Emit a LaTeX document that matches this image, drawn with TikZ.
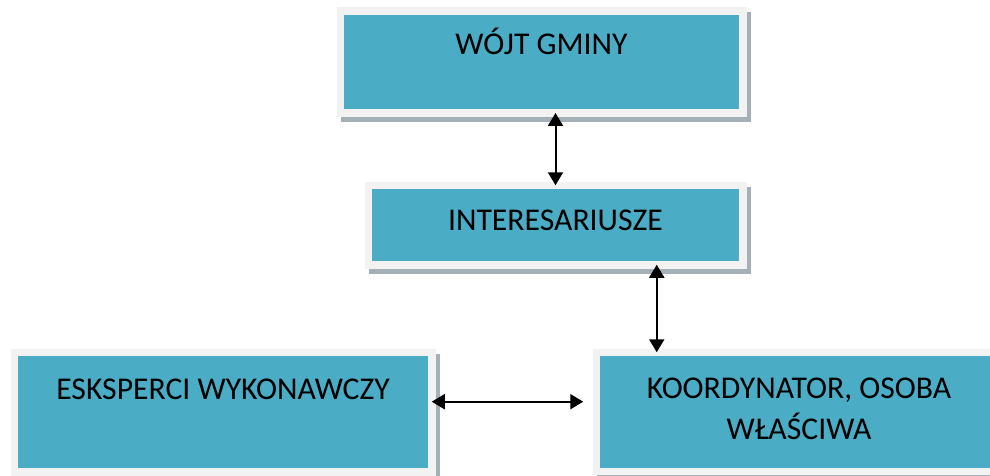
\documentclass[tikz,border=0pt]{standalone}
\usepackage{fontspec}
\setmainfont{Carlito}
\usetikzlibrary{arrows.meta,calc}
\definecolor{turkus}{RGB}{75,172,198}
\definecolor{ramka}{RGB}{242,242,242}
\definecolor{cien}{RGB}{165,176,182}
\tikzset{
>={Triangle[length=13pt,width=15pt]},
blok/.style={rectangle,fill=turkus,draw=ramka,line width=7.5pt,inner sep=0pt,outer sep=0pt,
  preaction={fill=cien,draw=cien,line width=7.5pt,transform canvas={shift={(4pt,-5pt)}}},
  font=\fontsize{31.7}{41.7}\selectfont},
strzalka/.style={<->,line width=2pt}}

\begin{document}
\begin{tikzpicture}[x=1pt,y=-1pt]
\useasboundingbox (0,0) rectangle (990,476);

\node (wojt) [blok,anchor=north,minimum width=402.5pt,text height=43.75pt,text depth=58pt] at (541.5,11.25) {WÓJT GMINY};
\node (inter) [blok,anchor=north,minimum width=374.5pt,text height=45.45pt,text depth=34.05pt] at (555.5,185.25) {INTERESARIUSZE};
\node (eksp) [blok,anchor=north,minimum width=417.5pt,text height=46.75pt,text depth=72.75pt] at (223,352.25) {ESKSPERCI WYKONAWCZY};
\node (koord) [blok,anchor=north,minimum width=405.5pt,align=center,text height=87.7pt,text depth=31.75pt] at (799,352.25) {KOORDYNATOR, OSOBA\\WŁAŚCIWA};

\draw[strzalka] (wojt.south -| inter.north) -- (inter.north);
\draw[strzalka] ([xshift=-86pt]inter.south east) -- ([xshift=-86pt]inter.south east |- koord.north);
\draw[strzalka,shorten >=13pt] ([yshift=10.3pt]eksp.east) -- ([yshift=10.3pt]eksp.east -| koord.west);

\end{tikzpicture}
\end{document}
